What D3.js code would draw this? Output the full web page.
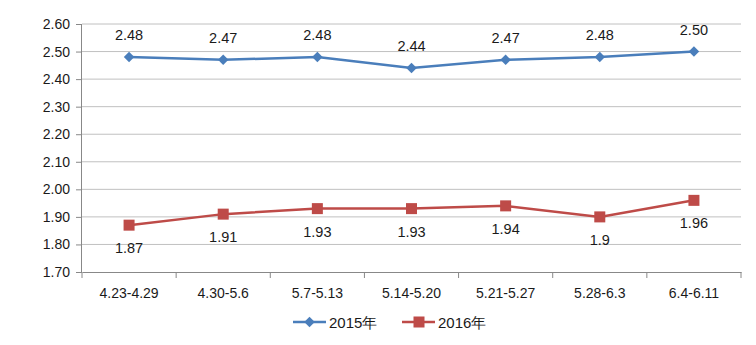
<!DOCTYPE html>
<html><head><meta charset="utf-8">
<script src="https://cdn.jsdelivr.net/npm/d3@7"></script>
<style>body{margin:0;background:#fff}svg{display:block}text{font-family:"Liberation Sans","DejaVu Sans",sans-serif;fill:#1a1a1a}</style>
</head><body>
<script>
const categories = ["4.23-4.29","4.30-5.6","5.7-5.13","5.14-5.20","5.21-5.27","5.28-6.3","6.4-6.11"];
const values2015 = [2.48,2.47,2.48,2.44,2.47,2.48,2.50];
const labels2015 = ["2.48","2.47","2.48","2.44","2.47","2.48","2.50"];
const values2016 = [1.87,1.91,1.93,1.93,1.94,1.9,1.96];
const labels2016 = ["1.87","1.91","1.93","1.93","1.94","1.9","1.96"];
const yTicks = [1.70,1.80,1.90,2.00,2.10,2.20,2.30,2.40,2.50,2.60];
const seriesNames = ["2015年","2016年"];

const W=756,H=345;
const svg=d3.select("body").append("svg").attr("width",W).attr("height",H);
const L=82,R=741,T=24,B=272;
const x=d3.scaleBand().domain(categories).range([L,R]);
const y=d3.scaleLinear().domain([1.70,2.60]).range([B,T]);

// gridlines
svg.append("g").selectAll("line").data(yTicks.slice(1)).join("line")
 .attr("x1",L).attr("x2",R).attr("y1",d=>y(d)).attr("y2",d=>y(d))
 .attr("stroke","#c0c0c0").attr("stroke-width",1);

// y axis
const ya=svg.append("g").attr("transform",`translate(${L},0)`)
 .call(d3.axisLeft(y).tickValues(yTicks).tickFormat(d3.format(".2f")).tickSize(6).tickPadding(6));
ya.select(".domain").attr("stroke","#888").attr("d",`M-0.5,${B}V${T}`);
ya.selectAll(".tick line").attr("stroke","#888");
ya.selectAll("text").style("font-size","14px").attr("fill","#1a1a1a");

// x axis
const xa=svg.append("g").attr("transform",`translate(0,${B})`)
 .call(d3.axisBottom(x).tickSize(0).tickPadding(16));
xa.select(".domain").attr("stroke","#888");
xa.selectAll("text").style("font-size","14px").attr("fill","#1a1a1a");
xa.append("g").selectAll("line").data(d3.range(categories.length+1)).join("line")
 .attr("x1",i=>L+i*x.step()).attr("x2",i=>L+i*x.step()).attr("y1",0).attr("y2",6).attr("stroke","#888");

const cx=c=>x(c)+x.bandwidth()/2;
const line=d3.line().x((d,i)=>cx(categories[i])).y(d=>y(d));
const blue="#4a7ebb",red="#be4b48";

svg.append("path").datum(values2015).attr("d",line).attr("fill","none").attr("stroke",blue).attr("stroke-width",2.5);
svg.append("path").datum(values2016).attr("d",line).attr("fill","none").attr("stroke",red).attr("stroke-width",2.5);

const diamond=d3.symbol().type(d3.symbolDiamond2).size(70);
svg.append("g").selectAll("path").data(values2015).join("path")
 .attr("d",diamond).attr("transform",(d,i)=>`translate(${cx(categories[i])},${y(d)})`).attr("fill",blue);
svg.append("g").selectAll("rect").data(values2016).join("rect")
 .attr("x",(d,i)=>cx(categories[i])-5.5).attr("y",d=>y(d)-5.5).attr("width",11).attr("height",11).attr("fill",red);

svg.append("g").selectAll("text").data(values2015).join("text")
 .attr("x",(d,i)=>cx(categories[i])).attr("y",d=>y(d)-17).attr("text-anchor","middle")
 .style("font-size","14.5px").text((d,i)=>labels2015[i]);
svg.append("g").selectAll("text").data(values2016).join("text")
 .attr("x",(d,i)=>cx(categories[i])).attr("y",d=>y(d)+28).attr("text-anchor","middle")
 .style("font-size","14.5px").text((d,i)=>labels2016[i]);

// legend
const lg=svg.append("g");
const items=[{x:293,c:blue,t:"d"},{x:402,c:red,t:"s"}];
items.forEach((it,k)=>{
 const g=lg.append("g").attr("transform",`translate(${it.x},322)`);
 g.append("line").attr("x1",0).attr("x2",33).attr("stroke",it.c).attr("stroke-width",2.5);
 if(it.t==="d") g.append("path").attr("d",diamond).attr("transform","translate(16.5,0)").attr("fill",it.c);
 else g.append("rect").attr("x",11.5).attr("y",-5.5).attr("width",11).attr("height",11).attr("fill",it.c);
 g.append("text").attr("x",36).attr("y",5.5).style("font-size","15px").text(seriesNames[k]);
});
</script>
</body></html>
